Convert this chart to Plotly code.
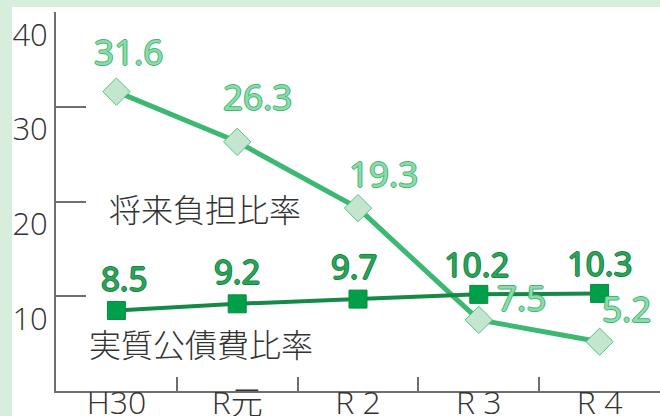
import plotly.graph_objects as go

# Data
years = ["H30", "R元", "R 2", "R 3", "R 4"]
future_burden = [31.6, 26.3, 19.3, 7.5, 5.2]       # 将来負担比率
debt_service = [8.5, 9.2, 9.7, 10.2, 10.3]          # 実質公債費比率
y_ticks = [10, 20, 30, 40]

# Style
font_jp = "Noto Sans CJK JP"
font_num = "Open Sans"
light_line = "#3cb873"
light_fill = "#c4e6cf"
dark_line = "#168a45"
dark_fill = "#00a04a"
axis_gray = "#6e6e6e"

def outline(color, w=1):
    return ", ".join(f"{dx}px {dy}px 0 {color}" for dx, dy in
                     [(w, 0), (-w, 0), (0, w), (0, -w)])

# label offsets (pixels) relative to each marker
light_dx = [12, 20, 25, 43, 27]
light_dy = [40, 45, 35, 22, 33]
dark_dx = [8, 0, -4, -2, 0]
dark_dy = [32, 32, 33, 30, 30]

fig = go.Figure()

fig.add_trace(go.Scatter(
    x=years, y=future_burden, mode="lines+markers",
    line=dict(color=light_line, width=5),
    marker=dict(symbol="diamond", size=21, color=light_fill,
                line=dict(color="#55c283", width=1)),
    showlegend=False, hoverinfo="skip"
))

fig.add_trace(go.Scatter(
    x=years, y=debt_service, mode="lines+markers",
    line=dict(color=dark_line, width=4),
    marker=dict(symbol="square", size=18, color=dark_fill,
                line=dict(color="#0a8a3e", width=1)),
    showlegend=False, hoverinfo="skip"
))

annotations = []
for i, v in enumerate(future_burden):
    annotations.append(dict(
        x=i, y=v, xref="x", yref="y", text=f"{v}", showarrow=False,
        xanchor="center", yanchor="middle",
        xshift=light_dx[i], yshift=light_dy[i],
        font=dict(family=font_num, size=35, color="#8fdaab", weight=400,
                  shadow=outline("#3db870"))
    ))
for i, v in enumerate(debt_service):
    annotations.append(dict(
        x=i, y=v, xref="x", yref="y", text=f"{v}", showarrow=False,
        xanchor="center", yanchor="middle",
        xshift=dark_dx[i], yshift=dark_dy[i],
        font=dict(family=font_num, size=33, color="#2ba45c", weight=500,
                  shadow=outline("#16853f"))
    ))

# series names
annotations.append(dict(
    x=0.247, y=0.483, xref="paper", yref="paper", text="将来負担比率",
    showarrow=False, xanchor="center", yanchor="middle",
    font=dict(family=font_jp, size=32, color="#333333", weight=300)
))
annotations.append(dict(
    x=0.240, y=0.127, xref="paper", yref="paper", text="実質公債費比率",
    showarrow=False, xanchor="center", yanchor="middle",
    font=dict(family=font_jp, size=32, color="#333333", weight=300)
))

# light green frame strips (left and top)
shapes = [
    dict(type="rect", xref="paper", yref="paper", layer="below",
         x0=-56 / 604, x1=-44 / 604, y0=-25 / 379, y1=1 + 12 / 379,
         fillcolor="#d8eedd", line_width=0),
    dict(type="rect", xref="paper", yref="paper", layer="below",
         x0=-56 / 604, x1=1, y0=1 + 5 / 379, y1=1 + 12 / 379,
         fillcolor="#d8eedd", line_width=0),
]

fig.update_layout(
    width=660, height=416,
    margin=dict(l=56, r=0, t=12, b=25),
    paper_bgcolor="white", plot_bgcolor="white",
    annotations=annotations, shapes=shapes,
    xaxis=dict(
        type="category", range=[-0.5, 4.5], tickson="boundaries",
        ticks="inside", ticklen=14, tickwidth=2, tickcolor=axis_gray,
        showline=True, linecolor=axis_gray, linewidth=2,
        showgrid=False, zeroline=False, automargin=False,
        ticklabelstandoff=-17,
        tickfont=dict(family="Open Sans, Noto Sans CJK JP", size=32,
                      color="#333333", weight=300),
    ),
    yaxis=dict(
        range=[0, 40], tickvals=y_ticks,
        ticks="inside", ticklen=30, tickwidth=2, tickcolor=axis_gray,
        ticklabelposition="outside bottom",
        showline=True, linecolor=axis_gray, linewidth=2,
        showgrid=False, zeroline=False, automargin=False,
        tickfont=dict(family=font_num, size=31, color="#333333", weight=300),
    ),
)

# remove the default page margin so the chart sits at the window's corner
fig.write_html("out.html", config={"displayModeBar": False},
               post_script="document.body.style.margin='0';")
